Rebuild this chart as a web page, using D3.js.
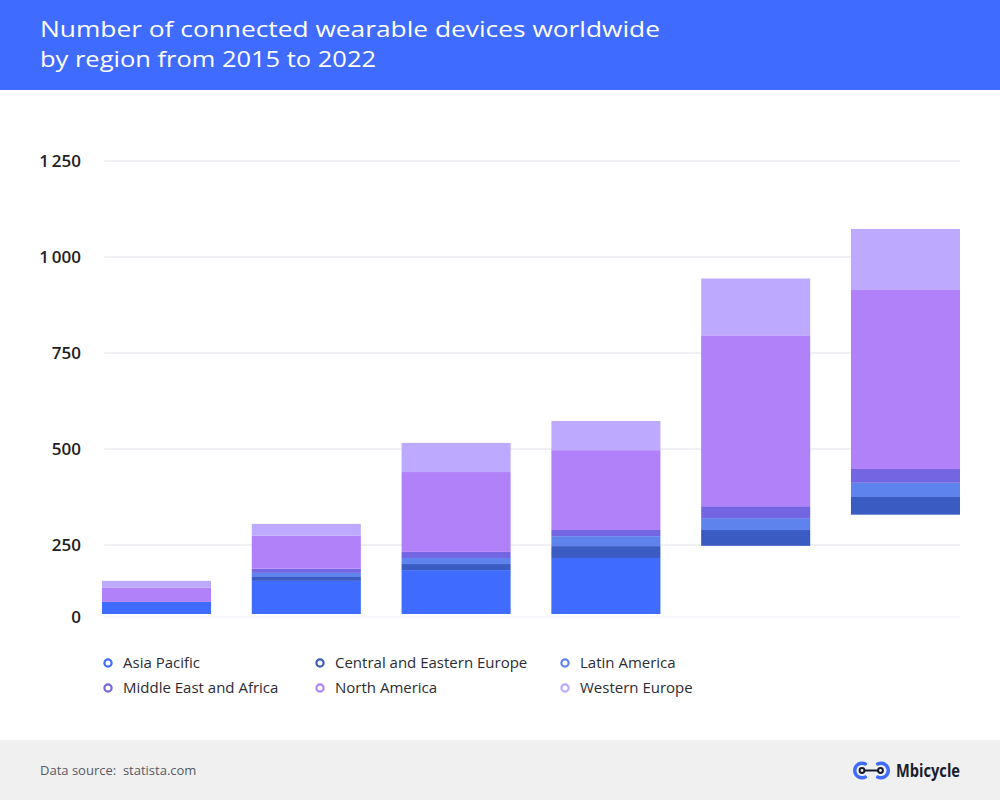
<!DOCTYPE html>
<html>
<head>
<meta charset="utf-8">
<script src="https://cdn.jsdelivr.net/npm/d3@7"></script>
<style>
  html, body { margin: 0; padding: 0; background: #fff; }
  svg { display: block; font-family: "Open Sans", sans-serif; }
</style>
</head>
<body>
<svg id="chart" width="1000" height="800"></svg>
<script>
// ---------- data ----------
const years = ["2015", "2016", "2017", "2018", "2021", "2022"];
const seriesNames = ["Asia Pacific", "Central and Eastern Europe", "Latin America",
                     "Middle East and Africa", "North America", "Western Europe"];
const asiaPacific        = [44, 120, 159, 203, 247, 329];
const centralEastEurope  = [0, 14, 22, 43, 42, 46];
const latinAmerica       = [0, 15, 22, 27, 31, 37];
const middleEastAfrica   = [0, 15, 22, 16, 31, 36];
const northAmerica       = [51, 110, 215, 208, 445, 466];
const westernEurope      = [25, 31, 76, 76, 148, 159];
// Asia Pacific segment is not drawn in the reference for the last two bars
const asiaPacificShown   = [true, true, true, true, false, false];
const yTicks = [0, 250, 500, 750, 1000, 1250];
const colors = ["#3f6bff", "#3a5bc2", "#5f83ec", "#7466e3", "#b081f8", "#bdaaff"];

const titleLines = ["Number of connected wearable devices worldwide", "by region from 2015 to 2022"];

// ---------- build table ----------
const allSeries = [asiaPacific, centralEastEurope, latinAmerica, middleEastAfrica, northAmerica, westernEurope];
const table = years.map((yr, i) => {
  const row = { year: yr, idx: i };
  seriesNames.forEach((s, j) => row[s] = allSeries[j][i]);
  return row;
});
const stacked = d3.stack().keys(seriesNames)(table);

const svg = d3.select("#chart");

// header
svg.append("rect").attr("x", 0).attr("y", 0).attr("width", 1000).attr("height", 90).attr("fill", "#3f6bff");
svg.append("g").selectAll("text").data(titleLines).join("text")
  .attr("x", 40).attr("y", (d, i) => 36.5 + i * 30.5)
  .attr("fill", "#fff").attr("font-size", 21).attr("font-weight", 400)
  .attr("textLength", (d, i) => i === 0 ? 620 : 336).attr("lengthAdjust", "spacingAndGlyphs")
  .text(d => d);

// scales
const x = d3.scaleBand().domain(years).range([102, 960]).paddingInner(0.272).paddingOuter(0);
const y = d3.scaleLinear().domain([0, 250, 1250]).range([614, 545, 161]);

const fmt = d3.formatLocale({ decimal: ".", thousands: "\u2009", grouping: [3], currency: ["", ""] }).format(",d");

// gridlines
const grid = svg.append("g");
grid.selectAll("line").data(yTicks).join("line")
  .attr("x1", 104).attr("x2", 960)
  .attr("y1", d => d === 0 ? y(d) + 3 : y(d)).attr("y2", d => d === 0 ? y(d) + 3 : y(d))
  .attr("stroke", d => d === 0 ? "#f0eff8" : "#e1e0ea").attr("stroke-width", 1);

// y axis labels
svg.append("g").selectAll("text").data(yTicks).join("text")
  .attr("x", 81).attr("y", d => d === 0 ? y(d) + 3 : y(d)).attr("dy", "0.35em")
  .attr("text-anchor", "end").attr("font-size", 17).attr("font-weight", 600).attr("fill", "#1e1e24")
  .text(d => fmt(d));

// bars
svg.append("g").selectAll("g").data(stacked).join("g")
  .attr("fill", (d, i) => colors[i])
  .selectAll("rect")
  .data(d => d.filter(p => !(d.key === "Asia Pacific" && !asiaPacificShown[p.data.idx]) && p[1] > p[0]))
  .join("rect")
  .attr("x", p => x(p.data.year))
  .attr("width", x.bandwidth())
  .attr("y", p => y(p[1]))
  .attr("height", p => y(p[0]) - y(p[1]));

// legend
const legCols = [108, 320, 565];
const legend = svg.append("g").selectAll("g").data(seriesNames).join("g")
  .attr("transform", (d, i) => `translate(${legCols[i % 3]},${663 + Math.floor(i / 3) * 25})`);
legend.append("circle").attr("r", 3.6).attr("fill", "none")
  .attr("stroke", (d, i) => colors[i]).attr("stroke-width", 2.2);
legend.append("text").attr("x", 15).attr("dy", "0.35em")
  .attr("font-size", 15).attr("fill", "#2c2c33").text(d => d);

// footer
svg.append("rect").attr("x", 0).attr("y", 740).attr("width", 1000).attr("height", 60).attr("fill", "#f0f0f0");
svg.append("text").attr("x", 40).attr("y", 770).attr("dy", "0.35em")
  .attr("font-size", 13).attr("fill", "#565a66").attr("xml:space", "preserve")
  .text("Data source:  statista.com");

// logo
const logo = svg.append("g");
const arcL = d3.arc().innerRadius(5.5).outerRadius(9).startAngle(Math.PI * 0.78).endAngle(Math.PI * 2.22).cornerRadius(1.5);
const arcR = d3.arc().innerRadius(5.5).outerRadius(9).startAngle(-Math.PI * 0.22).endAngle(Math.PI * 1.22).cornerRadius(1.5);
logo.append("path").attr("d", arcL()).attr("transform", "translate(862,770.5)").attr("fill", "#3f6bff");
logo.append("path").attr("d", arcR()).attr("transform", "translate(881,770.5)").attr("fill", "#3f6bff");
logo.append("line").attr("x1", 864).attr("x2", 879).attr("y1", 770.5).attr("y2", 770.5)
  .attr("stroke", "#1b1d2e").attr("stroke-width", 2);
logo.selectAll("circle").data([862, 880.5]).join("circle")
  .attr("cx", d => d).attr("cy", 770.5).attr("r", 2.4)
  .attr("fill", "#f0f0f0").attr("stroke", "#1b1d2e").attr("stroke-width", 2);
logo.append("text").attr("x", 896).attr("y", 771).attr("dy", "0.35em")
  .attr("font-size", 17).attr("font-weight", 700).attr("fill", "#1b1d2e")
  .attr("textLength", 64).attr("lengthAdjust", "spacingAndGlyphs")
  .text("Mbicycle");
</script>
</body>
</html>
